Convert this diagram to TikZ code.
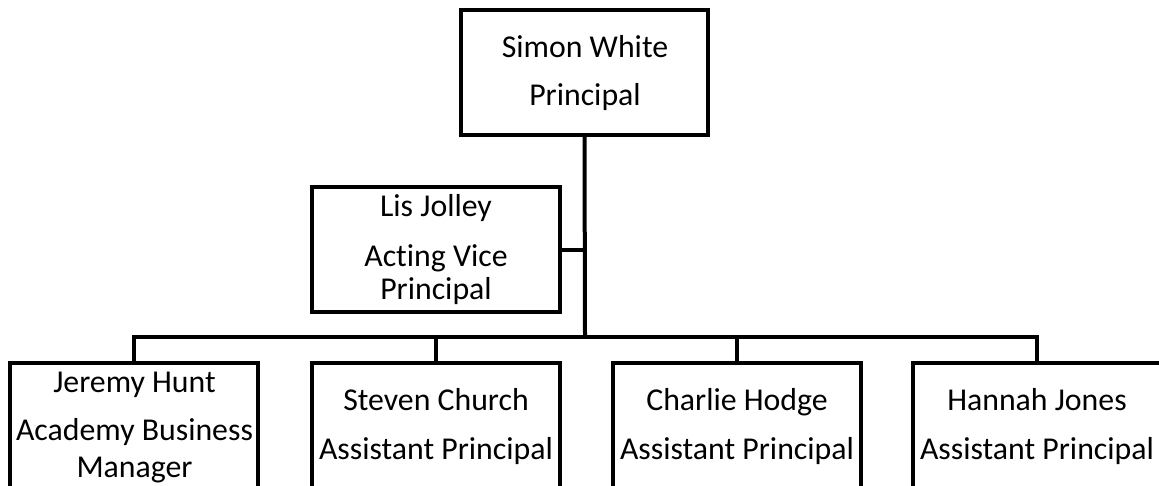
\documentclass[tikz,border=0pt]{standalone}
\usepackage{fontspec}
\setmainfont[Ligatures=NoCommon]{Carlito}
\begin{document}
\begin{tikzpicture}
[%%%%%%%%%%%%%%%%%%%%%%%%%%%%%%
x=0.5pt,y=-0.5pt,
box/.style={rectangle,draw=black,line width=2pt,inner sep=0pt,minimum width=124pt},
topbox/.style={box,minimum height=62.5pt},
lowbox/.style={box,minimum height=80pt},
txt/.style={anchor=base,inner sep=0pt,font=\fontsize{15.9}{19}\selectfont},
link/.style={draw=black,line width=2pt},
]%%%%%%%%%%%%%%%%%%%%%%%%%%%%%%
\useasboundingbox (0,0) rectangle (1159,486);
\node[topbox,minimum width=123.5pt] (simon) at (584.5,72.5){};
\node[topbox] (lis) at (436,249.5){};
\node[lowbox] (jeremy) at (134,443){};
\node[lowbox] (steven) at (436,443){};
\node[lowbox] (charlie) at (737,443){};
\node[lowbox] (hannah) at (1037,443){};
\coordinate (hub) at (585,337);
% texts
\node[txt] (simonname) at (585,58){Simon White};
\node[txt] (simonrole) at (585,106){Principal};
\node[txt] (lisname) at (436,216){Lis Jolley};
\node[txt] (lisrole) at (436,266){Acting Vice};
\node[txt] (lisrole2) at (436,299){Principal};
\node[txt] (jeremyname) at (134.5,392){Jeremy Hunt};
\node[txt] (jeremyrole) at (134.5,440){Academy Business};
\node[txt] (jeremyrole2) at (134.5,477){Manager};
\foreach \who/\name in {steven/Steven Church,charlie/Charlie Hodge,hannah/Hannah Jones}{
\node[txt] (\who name) at (\who.north |- 0,410){\name};
\node[txt] (\who role) at (\who.north |- 0,459){Assistant Principal};
}
% connectors
\draw[link] (simon.south) -- (hub);
\draw[link] (lis.east) -- (lis.east -| hub);
\draw[link] (jeremy.north) |- (hub) -| (hannah.north);
\foreach \who in {steven,charlie}
\draw[link] (\who.north |- hub) -- (\who.north);
\end{tikzpicture}
\end{document}
